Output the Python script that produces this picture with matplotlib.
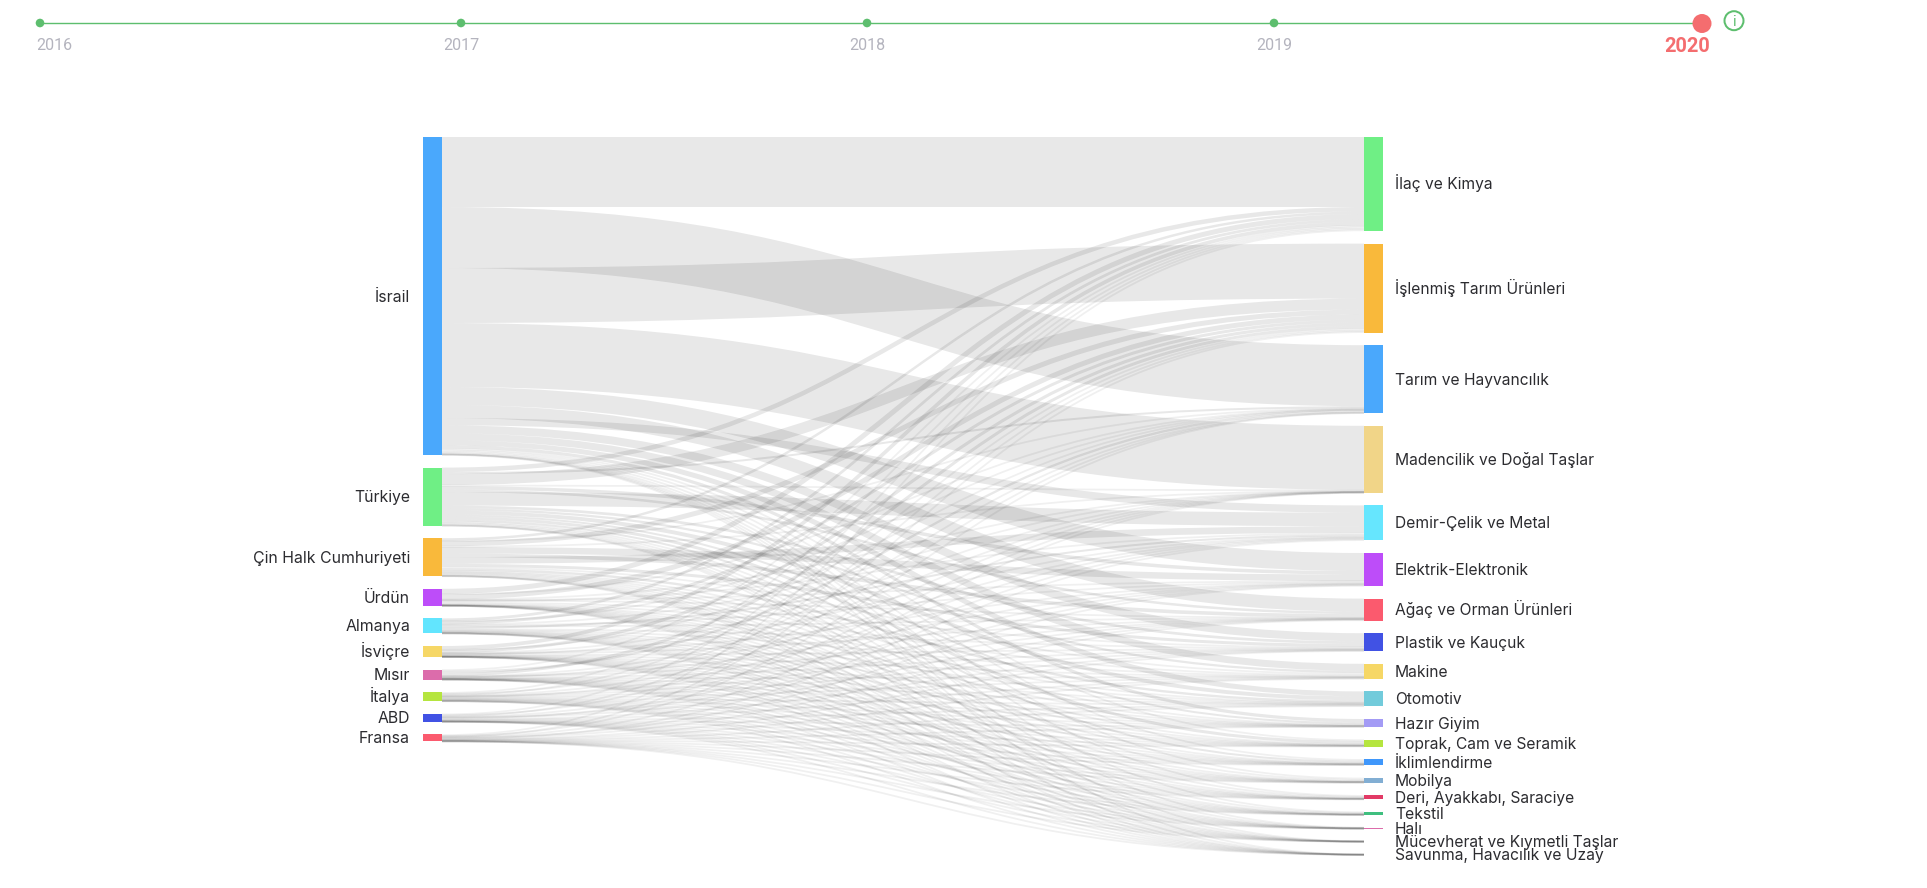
import matplotlib
matplotlib.use("Agg")
import matplotlib.pyplot as plt
from matplotlib.patches import Circle, PathPatch, Rectangle
from matplotlib.path import Path

plt.rcParams['font.family'] = ['Inter', 'DejaVu Sans']

years = ["2016", "2017", "2018", "2019", "2020"]

countries = ["İsrail", "Türkiye", "Çin Halk Cumhuriyeti", "Ürdün", "Almanya", "İsviçre", "Mısır", "İtalya", "ABD", "Fransa"]
countryColors = ["#4AA8FC", "#6FEF85", "#F9B93B", "#BD4DF9", "#62E5FE", "#F6D766", "#DC6CAB", "#B5E53F", "#4152E4", "#FB5A6E"]

sectors = ["İlaç ve Kimya", "İşlenmiş Tarım Ürünleri", "Tarım ve Hayvancılık", "Madencilik ve Doğal Taşlar",
           "Demir-Çelik ve Metal", "Elektrik-Elektronik", "Ağaç ve Orman Ürünleri", "Plastik ve Kauçuk",
           "Makine", "Otomotiv", "Hazır Giyim", "Toprak, Cam ve Seramik", "İklimlendirme", "Mobilya",
           "Deri, Ayakkabı, Saraciye", "Tekstil", "Halı", "Mücevherat ve Kıymetli Taşlar", "Savunma, Havacılık ve Uzay"]
sectorColors = ["#6FEF85", "#F9B93B", "#4AA8FC", "#F1D588", "#66E6FE", "#BD4DF9", "#FB5A6E", "#4152E4", "#F6D766",
                "#72CBDB", "#A39BF5", "#B5E53F", "#3F97FB", "#82AED3", "#E23A66", "#3FBF7F", "#DC6CAB", "#999999", "#999999"]

# flow from each country to each sector, same order as sectors
israil = [70, 55, 61, 64, 7.3, 18, 13, 8, 7, 5, 3.2, 1.3, 1.5, 1.5, 1, .6, .1, .2, .3]
turkiye = [4.5, 11, 2, 1, 13.5, 3.5, 2.5, 2.7, 2.23, 3.9, 2, 3, 2, 1.3, 1, 1.2, .6, .05, .02]
cin = [2.5, 5, .6, .7, 6.7, 6.5, 3.6, 3, 1.5, 2.38, 1, .9, .9, 1, 1, .5, .1, .1, .02]
urdun = [5, 5, .7, .3, 1.5, .6, .3, 1, 1.55, .1, .3, .2, .1, .1, .1, .1, .02, .01, .02]
almanya = [2.76, 3, .3, .2, 2, 1.5, .6, 1, .62, 1, .3, .5, .5, .3, .2, .15, .03, .02, .02]
isvicre = [3.74, 3.11, .2, .1, .8, .7, .3, .5, .4, .42, .2, .1, .1, .1, .1, .05, .02, .05, .01]
misir = [1.2, 3, 2.3, .3, .87, .3, .3, .3, .2, .3, .2, .3, .1, .05, .1, .1, .06, .01, .01]
italya = [1.5, 1.39, .4, .2, .47, .7, .31, .6, .8, .6, .4, .3, .4, .4, .3, .15, .03, .03, .02]
abd = [1.3, 1.5, .3, .1, 1.25, .7, .3, .5, .4, .8, .2, .1, .2, .1, .1, .05, .02, .01, .07]
fransa = [1.5, 1, .2, .1, .61, .5, .79, .4, .3, .5, .2, .3, .2, .15, .1, .1, .02, .02, .01]
flows = [israil, turkiye, cin, urdun, almanya, isvicre, misir, italya, abd, fransa]

# order the links leave a country node (tarim before islenmis, elektrik before demir)
leaveOrder = [0, 2, 1, 3, 5, 6, 4, 7, 8, 9, 10, 11, 12, 13, 14, 15, 16, 17, 18]

W, H, DPI = 1927, 888, 100
PX = 72 / DPI
GREEN = "#5DBE6E"
GREY = "#B4B4BE"
RED = "#F46D6F"
TEXT = "#2C2C30"
YEARFONT = ['Roboto', 'DejaVu Sans']

fig = plt.figure(figsize=(W / DPI, H / DPI), dpi=DPI)
ax = fig.add_axes([0, 0, 1, 1])
ax.set_xlim(0, W)
ax.set_ylim(H, 0)
ax.axis("off")

# timeline
yearX = [40, 461, 867, 1274, 1702]
ax.plot([yearX[0], yearX[-1]], [23, 23], color=GREEN, lw=1.4 * PX, zorder=1)
for i, year in enumerate(years):
    if year == "2020":
        ax.add_patch(Circle((yearX[i], 23.5), 9.5, color=RED, lw=0, zorder=2))
        ax.text(1687, 51.5, year, color=RED, fontsize=20 * PX, fontweight="bold", ha="center", va="baseline", family=YEARFONT)
    else:
        ax.add_patch(Circle((yearX[i], 23), 4.3, color=GREEN, lw=0, zorder=2))
        labelX = 54 if i == 0 else yearX[i]
        ax.text(labelX, 49.5, year, color=GREY, fontsize=16 * PX, ha="center", va="baseline", family=YEARFONT)
ax.add_patch(Circle((1734, 20.7), 9.5, fill=False, edgecolor=GREEN, lw=2 * PX))
ax.text(1734, 26, "i", color=GREEN, fontsize=15 * PX, ha="center", va="baseline")

# sankey layout
GAP = 12.6
TOP = 137
leftX0, leftX1 = 423, 442
rightX0, rightX1 = 1364, 1383

countryTotals = [sum(row) for row in flows]
sectorTotals = [sum(row[j] for row in flows) for j in range(len(sectors))]

countryY = []
y = TOP
for total in countryTotals:
    countryY.append(y)
    y += total + GAP

sectorY = []
y = TOP
for total in sectorTotals:
    sectorY.append(y)
    y += total + GAP

# links, stroked like a d3 sankey so tiny ones stay visible
sectorOffset = list(sectorY)
incoming = {}
for i, row in enumerate(flows):
    for j in range(len(sectors)):
        incoming[(i, j)] = sectorOffset[j] + row[j] / 2
        sectorOffset[j] += row[j]

midX = (leftX1 + rightX0) / 2
for i, row in enumerate(flows):
    offset = countryY[i]
    for j in leaveOrder:
        y0 = offset + row[j] / 2
        y1 = incoming[(i, j)]
        offset += row[j]
        path = Path([(leftX1, y0), (midX, y0), (midX, y1), (rightX0, y1)],
                    [Path.MOVETO, Path.CURVE4, Path.CURVE4, Path.CURVE4])
        alpha = .09 if row[j] >= 1.8 else .06
        ax.add_patch(PathPatch(path, fill=False, edgecolor=(0, 0, 0, alpha), lw=max(row[j], 1.8) * PX,
                               capstyle="butt", joinstyle="round", zorder=3))

# nodes
for i, name in enumerate(countries):
    ax.add_patch(Rectangle((leftX0, countryY[i]), leftX1 - leftX0, countryTotals[i], color=countryColors[i], lw=0, zorder=4))
    ax.text(410, countryY[i] + countryTotals[i] / 2 + 5.5, name, color=TEXT, fontsize=15.8 * PX, ha="right", va="baseline")

for j, name in enumerate(sectors):
    if sectorTotals[j] >= 1:
        ax.add_patch(Rectangle((rightX0, sectorY[j]), rightX1 - rightX0, sectorTotals[j], color=sectorColors[j], lw=0, zorder=4))
    ax.text(1395, sectorY[j] + sectorTotals[j] / 2 + 5.5, name, color=TEXT, fontsize=15.6 * PX, ha="left", va="baseline")

fig.savefig("out.png", dpi=DPI)
